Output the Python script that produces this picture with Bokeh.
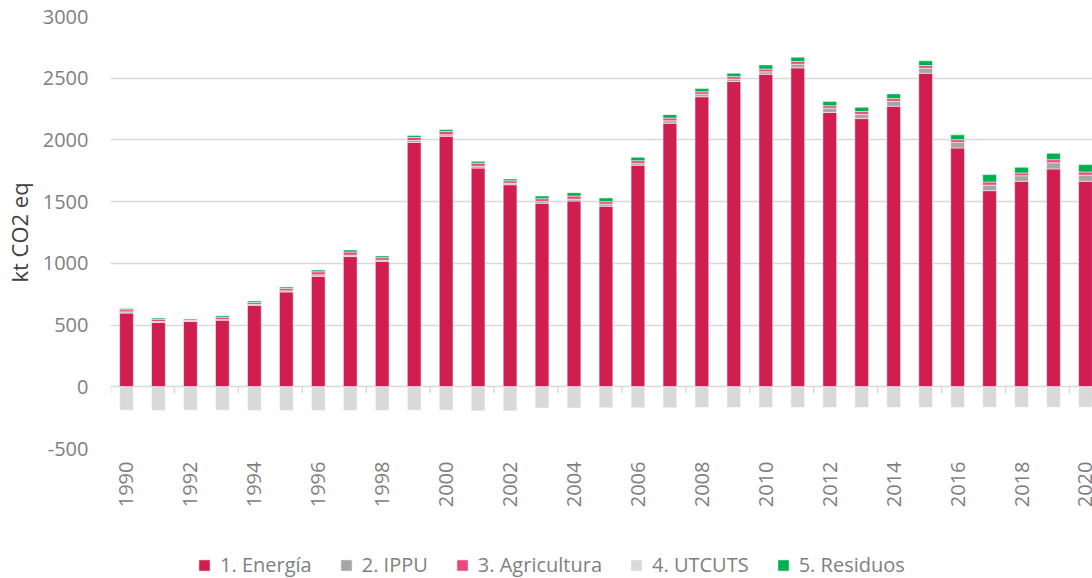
from bokeh.plotting import figure
from bokeh.layouts import column
from bokeh.models import (ColumnDataSource, Range1d, FixedTicker, Legend, LegendItem)
from bokeh.embed import file_html
from bokeh.resources import INLINE
import math

years = list(range(1990, 2021))
energia = [597, 521, 530, 540, 660, 768, 895, 1055, 1016, 1980, 2030, 1772, 1637, 1487, 1505, 1462,
           1795, 2135, 2350, 2473, 2532, 2584, 2222, 2173, 2273, 2540, 1935, 1589, 1665, 1765, 1665]
ippu = [10, 8, 5, 6, 8, 10, 12, 12, 10, 15, 12, 15, 12, 15, 15, 18,
        15, 20, 20, 20, 20, 30, 35, 35, 40, 40, 45, 45, 45, 50, 50]
agricultura = [18, 18, 6, 18, 15, 18, 25, 25, 20, 25, 27, 25, 20, 22, 25, 20,
               22, 22, 20, 20, 22, 22, 20, 22, 22, 22, 22, 25, 22, 25, 25]
residuos = [10, 10, 8, 12, 12, 12, 14, 16, 14, 15, 15, 15, 15, 22, 28, 30,
            27, 28, 26, 27, 34, 34, 34, 35, 38, 39, 39, 60, 46, 52, 60]
utcuts = [-190, -192, -190, -190, -192, -192, -192, -192, -192, -190, -190, -195, -195, -172, -172, -170,
          -170, -170, -168, -168, -168, -168, -168, -168, -168, -168, -167, -165, -165, -165, -165]
y_ticks = [-500, 0, 500, 1000, 1500, 2000, 2500, 3000]
y_tick_labels = ["-500", "0", "500", "1000", "1500", "2000", "2500", "3000"]
series_names = ["1. Energía", "2. IPPU", "3. Agricultura", "4. UTCUTS", "5. Residuos"]
colors = {"energia": "#D11E51", "ippu": "#A6A6A6", "agricultura": "#E8497C",
          "utcuts": "#D9D9D9", "residuos": "#00B050"}

FONT = "Open Sans"
TEXT_GRAY = "#7F7F7F"
stack_keys = ["energia", "ippu", "agricultura", "residuos"]

source = ColumnDataSource(dict(year=years, energia=energia, ippu=ippu,
                               agricultura=agricultura, residuos=residuos, utcuts=utcuts))


def draw_bars(fig):
    rs = fig.vbar_stack(stack_keys, x="year", width=0.43, source=source,
                        fill_color=[colors[k] for k in stack_keys],
                        line_color="white", line_width=0.5)
    r_ut = fig.vbar(x="year", top="utcuts", bottom=0, width=0.43, source=source,
                    fill_color=colors["utcuts"], line_color="white", line_width=0.5)
    return rs, r_ut


# ---------------- main chart ----------------
p = figure(width=1092, height=530, output_backend="svg", toolbar_location=None,
           x_range=Range1d(1989.5, 2020.22), y_range=Range1d(-500, 3000),
           min_border_left=110, min_border_right=0, min_border_top=16, min_border_bottom=82)
p.outline_line_color = None
p.background_fill_color = "white"
p.border_fill_color = "white"

p.xgrid.visible = False
p.ygrid.ticker = FixedTicker(ticks=y_ticks)
p.ygrid.grid_line_color = "#D9D9D9"
p.ygrid.grid_line_width = 1.5

# small ticks on the zero line at every second category boundary
tick_x = [y - 0.5 for y in years[::2]]
p.segment(x0=tick_x, x1=tick_x, y0=[0] * len(tick_x), y1=[-55] * len(tick_x),
          line_color="#D9D9D9", line_width=1.5)

draw_bars(p)

p.yaxis.ticker = FixedTicker(ticks=y_ticks)
p.yaxis.major_label_overrides = dict(zip(y_ticks, y_tick_labels))
p.yaxis.axis_line_color = None
p.yaxis.major_tick_line_color = None
p.yaxis.minor_tick_line_color = None
p.yaxis.major_tick_out = 0
p.yaxis.major_label_standoff = 22
p.yaxis.major_label_text_font = FONT
p.yaxis.major_label_text_font_size = "20px"
p.yaxis.major_label_text_color = TEXT_GRAY
p.yaxis.axis_label = "kt CO2 eq"
p.yaxis.axis_label_text_font = FONT
p.yaxis.axis_label_text_font_size = "22px"
p.yaxis.axis_label_text_font_style = "normal"
p.yaxis.axis_label_text_color = "#404040"
p.yaxis.axis_label_standoff = 6

p.xaxis.ticker = FixedTicker(ticks=years[::2])
p.xaxis.axis_line_color = None
p.xaxis.major_tick_line_color = None
p.xaxis.minor_tick_line_color = None
p.xaxis.major_tick_out = 0
p.xaxis.major_label_standoff = 13
p.xaxis.major_label_orientation = math.pi / 2
p.xaxis.major_label_text_font = FONT
p.xaxis.major_label_text_font_size = "20px"
p.xaxis.major_label_text_color = TEXT_GRAY

# ---------------- legend strip ----------------
lg = figure(width=1092, height=48, output_backend="svg", toolbar_location=None,
            x_range=Range1d(0, 1), y_range=Range1d(0, 1),
            x_axis_location=None, y_axis_location=None, min_border=0)
lg.outline_line_color = None
lg.grid.visible = False
lg.background_fill_color = "white"
lg.border_fill_color = "white"
lrs, lr_ut = draw_bars(lg)   # out of the strip's range: only used by the legend

legend = Legend(items=[
    LegendItem(label=series_names[0], renderers=[lrs[0]]),
    LegendItem(label=series_names[1], renderers=[lrs[1]]),
    LegendItem(label=series_names[2], renderers=[lrs[2]]),
    LegendItem(label=series_names[3], renderers=[lr_ut]),
    LegendItem(label=series_names[4], renderers=[lrs[3]]),
], orientation="horizontal", location=(87, 0))
legend.border_line_color = None
legend.background_fill_alpha = 0
legend.padding = 0
legend.margin = 0
legend.spacing = 27
legend.glyph_width = 14
legend.glyph_height = 14
legend.label_standoff = 9
legend.label_text_font = FONT
legend.label_text_font_size = "20px"
legend.label_text_color = TEXT_GRAY
lg.add_layout(legend, "center")

layout = column(p, lg, spacing=0)
open("out.html", "w").write(file_html(layout, INLINE))
